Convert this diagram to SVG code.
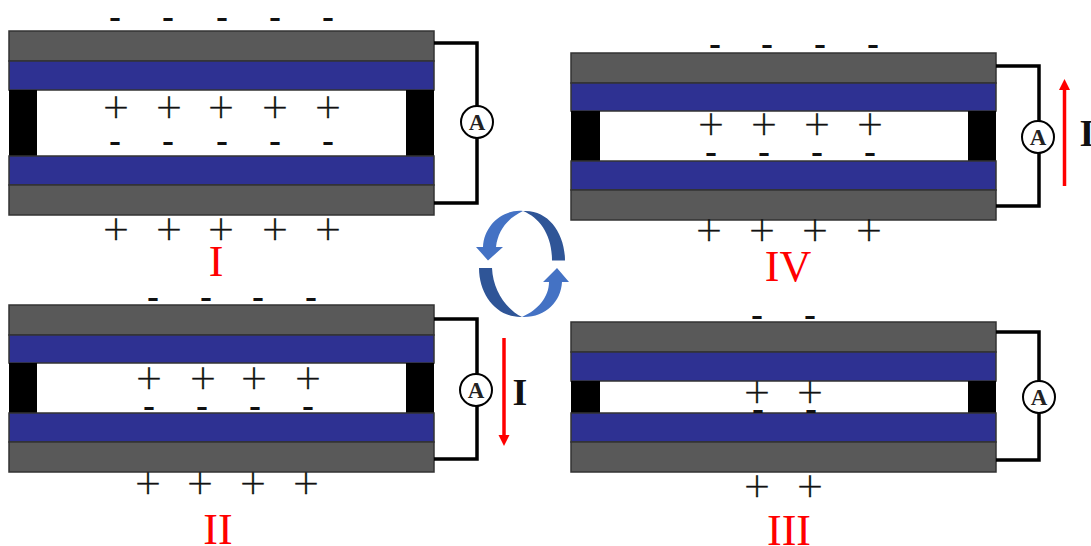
<svg xmlns="http://www.w3.org/2000/svg" width="1091" height="546" viewBox="0 0 1091 546">
<style>
.g{fill:#595959;stroke:#333;stroke-width:1.5}
.b{fill:#2e3192;stroke:#333;stroke-width:1.5}
.k{fill:#000}
.w{fill:none;stroke:#000;stroke-width:3.5}
.c{fill:#fff;stroke:#000;stroke-width:2}
.a{font:bold 23px "Liberation Serif",serif;text-anchor:middle;fill:#222}
.p{font:200 34px "DejaVu Sans",sans-serif;text-anchor:middle;fill:#111;stroke:#111;stroke-width:.3}
.m{font:600 28px Inter,sans-serif;text-anchor:middle;fill:#111}
.r{font:44px "Liberation Serif",serif;text-anchor:middle;fill:#f00}
.i{font:bold 38px "Liberation Serif",serif;text-anchor:middle;fill:#111}
.ra{stroke:#f00;stroke-width:3.500;fill:none}
.rh{fill:#f00}
.d{fill:#2f5597}
.l{fill:#4472c4}
</style>
<g id="panel-I">
<rect class="g" x="9" y="31" width="425" height="30"/>
<rect class="b" x="9" y="61" width="425" height="29"/>
<rect class="k" x="9" y="90" width="28" height="66"/>
<rect class="k" x="406" y="90" width="28" height="66"/>
<rect class="b" x="9" y="156" width="425" height="29"/>
<rect class="g" x="9" y="185" width="425" height="30"/>
<g class="m"><text x="115" y="27.500">-</text><text x="168" y="27.500">-</text><text x="222" y="27.500">-</text><text x="275" y="27.500">-</text><text x="328" y="27.500">-</text>
<text x="115" y="151.500">-</text><text x="168" y="151.500">-</text><text x="222" y="151.500">-</text><text x="275" y="151.500">-</text><text x="328" y="151.500">-</text></g>
<g class="p"><text x="116" y="118">+</text><text x="169" y="118">+</text><text x="221" y="118">+</text><text x="275" y="118">+</text><text x="328" y="118">+</text>
<text x="116" y="240">+</text><text x="169" y="240">+</text><text x="221" y="240">+</text><text x="275" y="240">+</text><text x="328" y="240">+</text></g>
<text class="r" x="216" y="276">I</text>
</g>
<g id="panel-IV">
<rect class="g" x="571" y="53" width="425" height="30"/>
<rect class="b" x="571" y="83" width="425" height="28"/>
<rect class="k" x="571" y="111" width="29" height="50"/>
<rect class="k" x="968" y="111" width="28" height="50"/>
<rect class="b" x="571" y="161" width="425" height="29"/>
<rect class="g" x="571" y="190" width="425" height="30"/>
<g class="m"><text x="715" y="54.500">-</text><text x="767" y="54.500">-</text><text x="820" y="54.500">-</text><text x="873" y="54.500">-</text>
<text x="711" y="162.500">-</text><text x="764" y="162.500">-</text><text x="817" y="162.500">-</text><text x="870" y="162.500">-</text></g>
<g class="p"><text x="711" y="135">+</text><text x="764" y="135">+</text><text x="817" y="135">+</text><text x="870" y="135">+</text>
<text x="709" y="241">+</text><text x="762" y="241">+</text><text x="815" y="241">+</text><text x="869" y="241">+</text></g>
<text class="r" x="788" y="281">IV</text>
</g>
<g id="panel-II">
<rect class="g" x="9" y="305" width="425" height="30"/>
<rect class="b" x="9" y="335" width="425" height="28"/>
<rect class="k" x="9" y="363" width="28" height="50"/>
<rect class="k" x="406" y="363" width="28" height="50"/>
<rect class="b" x="9" y="413" width="425" height="29"/>
<rect class="g" x="9" y="442" width="425" height="30"/>
<g class="m"><text x="153" y="307.500">-</text><text x="206" y="307.500">-</text><text x="258" y="307.500">-</text><text x="311" y="307.500">-</text>
<text x="149" y="416.500">-</text><text x="202" y="416.500">-</text><text x="255" y="416.500">-</text><text x="308" y="416.500">-</text></g>
<g class="p"><text x="149" y="389">+</text><text x="203" y="389">+</text><text x="254" y="389">+</text><text x="308" y="389">+</text>
<text x="148" y="494">+</text><text x="200" y="494">+</text><text x="253" y="494">+</text><text x="306" y="494">+</text></g>
<text class="r" x="218" y="544">II</text>
</g>
<g id="panel-III">
<rect class="g" x="571" y="322" width="425" height="30"/>
<rect class="b" x="571" y="352" width="425" height="29"/>
<rect class="k" x="571" y="381" width="29" height="32"/>
<rect class="k" x="968" y="381" width="28" height="32"/>
<rect class="b" x="571" y="413" width="425" height="29"/>
<rect class="g" x="571" y="442" width="425" height="30"/>
<g class="m"><text x="757" y="325.500">-</text><text x="810" y="325.500">-</text>
<text x="758" y="419.500">-</text><text x="811" y="419.500">-</text></g>
<g class="p"><text x="757" y="403">+</text><text x="810" y="403">+</text>
<text x="757" y="497">+</text><text x="810" y="497">+</text></g>
<text class="r" x="789" y="545">III</text>
</g>
<g id="connectors">
<path class="w" d="M434 43H477V203H434"/>
<path class="w" d="M996 66H1039V206H996"/>
<path class="w" d="M434 319H477V459H434"/>
<path class="w" d="M996 332H1039V460H996"/>
<path class="ra" d="M1064.5 186V90"/><path class="rh" d="M1064.5 79L1070 90H1059Z"/>
<path class="ra" d="M504 338V435"/><path class="rh" d="M504 446L498.500 435H509.500Z"/>
</g>
<g id="ammeter-I"><circle class="c" cx="477" cy="122" r="16"/><text class="a" x="477" y="130">A</text></g>
<g id="ammeter-IV"><circle class="c" cx="1038" cy="137" r="16"/><text class="a" x="1038" y="145">A</text></g>
<g id="ammeter-II"><circle class="c" cx="476" cy="390" r="16"/><text class="a" x="476" y="398">A</text></g>
<g id="ammeter-III"><circle class="c" cx="1039" cy="397" r="16"/><text class="a" x="1039" y="405">A</text></g>
<text class="i" x="1087" y="146">I</text>
<text class="i" x="520" y="405">I</text>
<g id="cycle">
<path class="d" d="M523 211C547 209 565 232 565 260.500L552 260.500C552 235 540 218 523 211Z"/>
<path class="l" d="M523 211C503 209 484 225 483 247L476 247L488 260.500L503 247L496 247C498 230 508 218 523 211Z"/>
<path class="d" d="M479 268L492 268C493 290 505 308 522 317C498 318 479 296 479 268Z"/>
<path class="l" d="M522 317C538 310 549 297 549 282L543 282L557 268L569 282L562 282C561 302 545 318 522 317Z"/>
</g>
</svg>
